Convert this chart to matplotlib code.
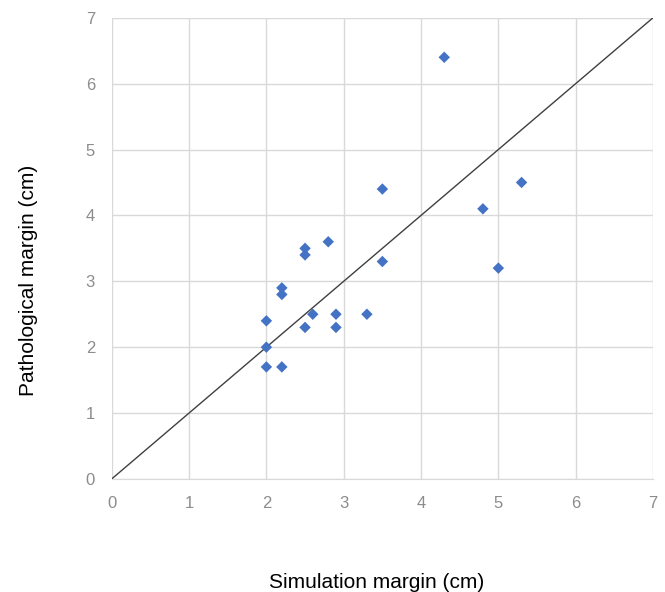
import matplotlib
matplotlib.use("Agg")
import matplotlib.pyplot as plt

plt.rcParams["font.family"] = ["Liberation Sans", "DejaVu Sans"]

# simulation vs pathological margins (cm)
sim_margin = [4.3, 3.5, 5.3, 4.8, 5.0, 2.8, 2.5, 2.5, 3.5, 2.2, 2.2, 2.0,
              2.6, 2.9, 3.3, 2.5, 2.9, 2.0, 2.0, 2.2]
path_margin = [6.4, 4.4, 4.5, 4.1, 3.2, 3.6, 3.5, 3.4, 3.3, 2.9, 2.8, 2.4,
               2.5, 2.5, 2.5, 2.3, 2.3, 2.0, 1.7, 1.7]
ticks = [0, 1, 2, 3, 4, 5, 6, 7]

fig = plt.figure(figsize=(6.65, 5.92), dpi=100)
ax = fig.add_axes([0.168, 0.191, 0.814, 0.779])

ax.plot([0, 7], [0, 7], color="#404040", lw=1.0, zorder=2)
ax.scatter(sim_margin, path_margin, marker="D", s=34, color="#4472c4",
           edgecolors="none", zorder=3)

ax.set_xlim(0, 7)
ax.set_ylim(0, 7)
ax.set_xticks(ticks)
ax.set_yticks(ticks)
ax.grid(True, color="#d9d9d9", lw=1.0)
ax.set_axisbelow(True)
for s in ax.spines.values():
    s.set_visible(False)
ax.spines["bottom"].set_visible(True)
ax.spines["bottom"].set_color("#d9d9d9")
ax.tick_params(length=0, labelsize=12, colors="#8c8c8c", pad=12)

ax.set_xlabel("Simulation margin (cm)", fontsize=15)
ax.set_ylabel("Pathological margin (cm)", fontsize=15)
# labels sit off-centre in the original
ax.xaxis.set_label_coords(0.49, -0.205)
ax.yaxis.set_label_coords(-0.136, 0.43)

fig.savefig("out.png", dpi=100)
